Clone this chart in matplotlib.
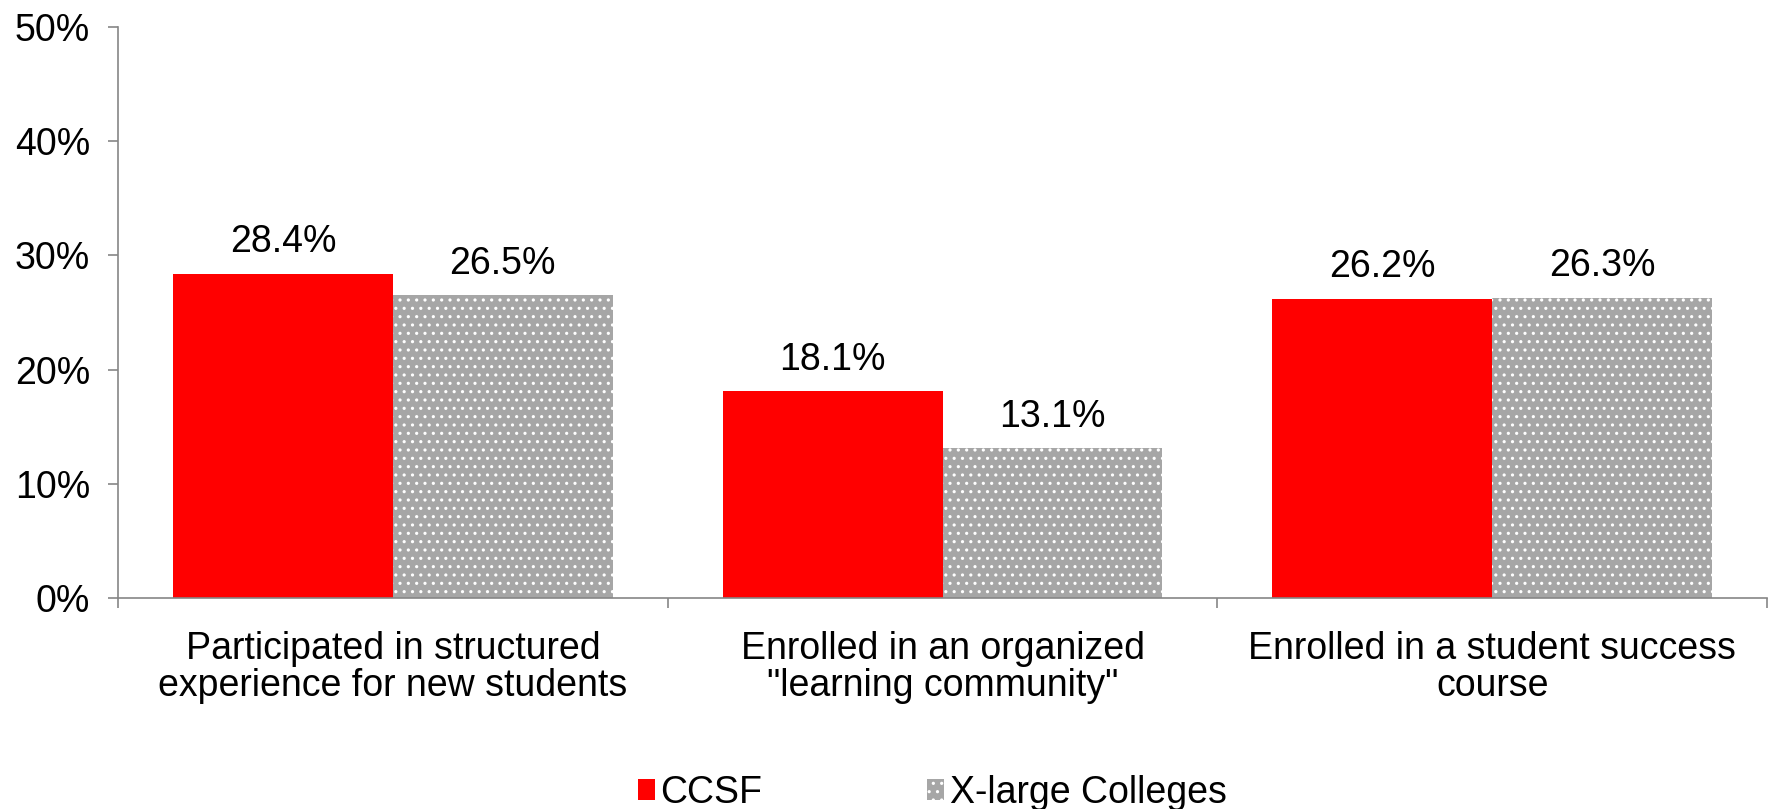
import numpy as np
import matplotlib.pyplot as plt
from matplotlib.ticker import FixedLocator, FuncFormatter

plt.rcParams['font.family'] = ['Liberation Sans', 'DejaVu Sans']
plt.rcParams['hatch.linewidth'] = 1.1

categories = ['Participated in structured\nexperience for new students',
              'Enrolled in an organized\n"learning community"',
              'Enrolled in a student success\ncourse']
ccsf = [28.4, 18.1, 26.2]
xlarge = [26.5, 13.1, 26.3]
series_names = ['CCSF', 'X-large Colleges']

fs = 27

fig = plt.figure(figsize=(17.69, 8.09), dpi=100)
ax = fig.add_axes([0.0667, 0.2608, 0.9322, 0.7058])

x = np.arange(len(categories))
w = 0.4
b1 = ax.bar(x - w/2, ccsf, w, color='#FF0000', linewidth=0, label=series_names[0])
b2 = ax.bar(x + w/2, xlarge, w, color='#A6A6A6', edgecolor='white', linewidth=0,
            hatch='..', label=series_names[1])

for bars, vals in ((b1, ccsf), (b2, xlarge)):
    for r, v in zip(bars, vals):
        ax.text(r.get_x() + r.get_width()/2, v + 1.2, f'{v:.1f}%',
                ha='center', va='bottom', fontsize=fs)

ax.set_xlim(-0.5, len(categories) - 0.5)
ax.set_ylim(0, 50)
ax.set_yticks(np.arange(0, 51, 10))
ax.yaxis.set_major_formatter(FuncFormatter(lambda v, p: f'{v:.0f}%'))

# boundaries as major ticks, labels on minor ticks
ax.xaxis.set_major_locator(FixedLocator(np.arange(len(categories) + 1) - 0.5))
ax.xaxis.set_major_formatter(FuncFormatter(lambda v, p: ''))
ax.xaxis.set_minor_locator(FixedLocator(x))
ax.set_xticklabels(categories, minor=True, fontsize=fs, linespacing=1.02)
ax.tick_params(axis='x', which='minor', length=0, pad=24)
ax.tick_params(axis='x', which='major', length=7, color='#868686', width=1.2)
ax.tick_params(axis='y', length=7, color='#868686', width=1.2, labelsize=fs, pad=13)

for s in ('top', 'right'):
    ax.spines[s].set_visible(False)
for s in ('left', 'bottom'):
    ax.spines[s].set_color('#868686')
    ax.spines[s].set_linewidth(1.2)

fig.legend(handles=[b1, b2], loc='lower center', bbox_to_anchor=(0.527, -0.044),
           ncol=2, frameon=False, fontsize=fs, handlelength=0.45, handleheight=0.45,
           handletextpad=0.15, columnspacing=4.4)

fig.savefig('out.png', dpi=100)
